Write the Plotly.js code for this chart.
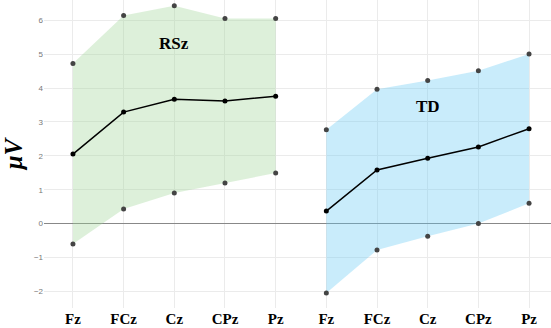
<!DOCTYPE html>
<html>
<head>
<meta charset="utf-8">
<script src="https://cdn.plot.ly/plotly-3.0.1.min.js"></script>
<style>html,body{margin:0;padding:0;background:#fff;}#chart{width:551px;height:328px;}</style>
</head>
<body>
<div id="chart"></div>
<script>
const electrodes = ["Fz", "FCz", "Cz", "CPz", "Pz"];
const groups = ["RSz", "TD"];
const rszMean  = [2.05, 3.29, 3.67, 3.62, 3.76];
const rszUpper = [4.72, 6.14, 6.43, 6.05, 6.05];
const rszLower = [-0.60, 0.43, 0.90, 1.20, 1.49];
const tdMean   = [0.37, 1.58, 1.93, 2.26, 2.80];
const tdUpper  = [2.77, 3.96, 4.22, 4.51, 5.00];
const tdLower  = [-2.05, -0.78, -0.37, 0.00, 0.60];
const labelY   = [5.3, 3.44];

const serif = "Liberation Serif, Times New Roman, serif";
const xs0 = electrodes.map((_, i) => i);
const xs1 = electrodes.map((_, i) => i + electrodes.length);
const allX = xs0.concat(xs1);
const allText = electrodes.concat(electrodes);

function band(x, lo, hi, fillcolor) {
  return [
    {x: x, y: lo, mode: "lines", line: {width: 0, color: "rgba(0,0,0,0)"}, hoverinfo: "skip", showlegend: false},
    {x: x, y: hi, mode: "lines", fill: "tonexty", fillcolor: fillcolor, line: {width: 0, color: "rgba(0,0,0,0)"}, hoverinfo: "skip", showlegend: false}
  ];
}
function pts(x, y) {
  return {x: x, y: y, mode: "markers", marker: {size: 5, color: "#444"}, showlegend: false};
}
function meanLine(x, y) {
  return {x: x, y: y, mode: "lines+markers", line: {color: "#000", width: 1.5}, marker: {size: 5, color: "#000"}, showlegend: false};
}

const data = []
  .concat(band(xs0, rszLower, rszUpper, "rgba(157,212,150,0.35)"))
  .concat(band(xs1, tdLower, tdUpper, "rgba(100,201,244,0.35)"))
  .concat([pts(xs0, rszUpper), pts(xs0, rszLower), pts(xs1, tdUpper), pts(xs1, tdLower),
           meanLine(xs0, rszMean), meanLine(xs1, tdMean)]);

const layout = {
  width: 551, height: 328,
  margin: {l: 44, r: 0, t: 0, b: 20},
  paper_bgcolor: "#fff", plot_bgcolor: "#fff",
  showlegend: false,
  xaxis: {
    range: [-0.571, 9.433],
    tickvals: allX, ticktext: allText,
    showgrid: true, gridcolor: "#ebebeb", gridwidth: 1,
    zeroline: false, showline: false, ticks: "",
    tickfont: {family: serif, size: 15, color: "#000", weight: "bold"}
  },
  yaxis: {
    range: [-2.49, 6.596],
    tickvals: [-2, -1, 0, 1, 2, 3, 4, 5, 6],
    showgrid: true, gridcolor: "#ebebeb", gridwidth: 1,
    zeroline: true, zerolinecolor: "#888", zerolinewidth: 1,
    showline: false, ticks: "",
    tickfont: {family: "Liberation Sans, Arial, sans-serif", size: 8, color: "#777"},
    title: {text: "μV", standoff: 12, font: {family: serif, size: 25, color: "#000", style: "italic", weight: "bold"}}
  },
  annotations: groups.map((g, k) => ({
    x: 2 + k * electrodes.length, y: labelY[k], xref: "x", yref: "y",
    text: g, showarrow: false,
    font: {family: serif, size: 17, color: "#000", weight: "bold"}
  }))
};

Plotly.newPlot("chart", data, layout, {displayModeBar: false, staticPlot: true});
</script>
</body>
</html>
